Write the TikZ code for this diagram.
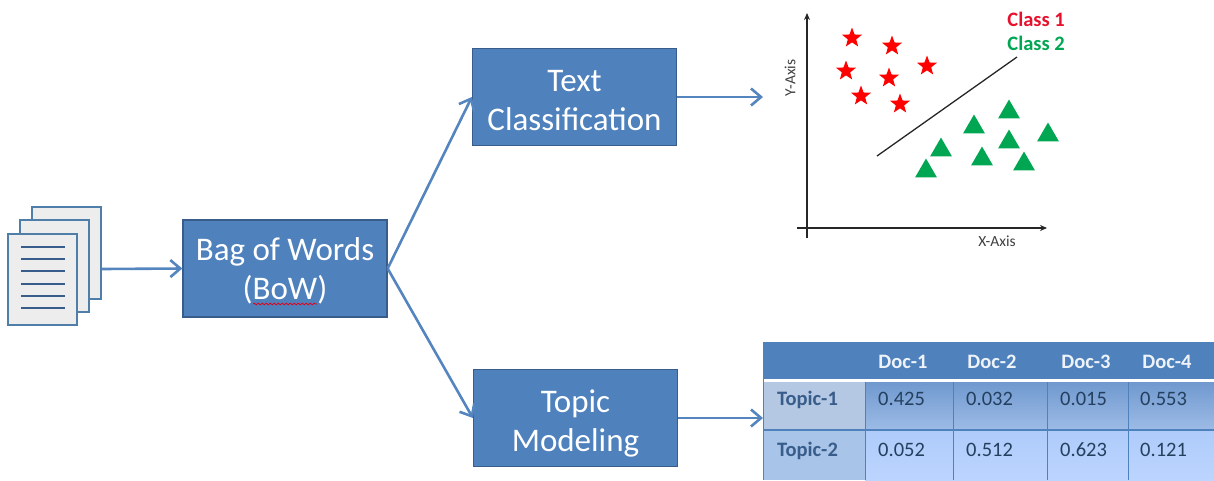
\documentclass[tikz,border=0pt]{standalone}
\usepackage{fontspec}
\setmainfont{Carlito}
\usetikzlibrary{arrows.meta,shapes.geometric,decorations.pathmorphing}
\definecolor{boxblue}{HTML}{4F81BD}
\definecolor{boxedge}{HTML}{385D8A}
\definecolor{linkblue}{HTML}{5585BE}
\definecolor{classred}{HTML}{E8112D}
\definecolor{classgreen}{HTML}{00A651}
\definecolor{docedge}{HTML}{4F7FA8}
\definecolor{cellink}{HTML}{24405F}
\definecolor{rowa}{HTML}{B4C8E4}
\definecolor{rowb}{HTML}{A8C4E8}
\definecolor{cellatop}{HTML}{7099CF}
\definecolor{cellabot}{HTML}{9DBBE6}
\definecolor{cellbtop}{HTML}{AECBFA}
\definecolor{cellbbot}{HTML}{BCD5FF}
\tikzset{
  stagebox/.style={draw=boxedge,line width=1.3pt,fill=boxblue,text=white,minimum width=204pt,minimum height=97pt,
    align=center,font=\fontsize{33}{39}\selectfont,inner sep=0pt},
  link/.style={draw=linkblue,line width=2.6pt,-{Straight Barb[length=10pt,width=17pt,line width=2.6pt]}},
  sheet/.style={draw=docedge,line width=2.6pt,fill=black!7},
  docline/.style={draw=boxedge,line width=2.6pt},
  starmark/.style={star,star points=5,star point ratio=2.4,fill=red,inner sep=0pt,minimum size=21pt},
  trimark/.style={regular polygon,regular polygon sides=3,fill=classgreen,inner sep=0pt,minimum size=25pt},
  axis/.style={draw=black!85,line width=1.1pt,-{Stealth[length=7pt,width=6pt]}},
  headcell/.style={text=white!90!boxblue,inner sep=0pt,font=\fontsize{20.5}{22}\bfseries\selectfont},
  rowcell/.style={text=boxedge,inner sep=0pt,text height=13pt,text depth=0pt,font=\fontsize{20.5}{22}\bfseries\selectfont,anchor=west},
  valcell/.style={text=cellink,inner sep=0pt,text height=13pt,text depth=0pt,font=\fontsize{20.5}{22}\selectfont,anchor=west}
}
\newcommand{\boxdrop}[1]{\rule{0pt}{#1}}
\begin{document}
\begin{tikzpicture}[x=1pt,y=-1pt]
  \useasboundingbox (0,0) rectangle (1214,480);
  % documents
  \draw[sheet] (32,207) rectangle (101,299);
  \draw[sheet] (20,220) rectangle (89,312);
  \draw[sheet] (8,234) rectangle (77,325);
  \draw[docline] (21,247) -- (65,247);
  \draw[docline] (21,259) -- (65,259);
  \draw[docline] (21,271) -- (65,271);
  \draw[docline] (21,284) -- (65,284);
  \draw[docline] (21,296) -- (65,296);
  \draw[docline] (21,308) -- (65,308);
  \coordinate (docs) at (102,269);
  % boxes
  \draw
    (285,268.5) node[stagebox] (bow){\boxdrop{28.5pt}Bag of Words\\(BoW)}
    (574.5,97) node[stagebox] (textclass){\boxdrop{29pt}Text\\Classification}
    (575.5,418) node[stagebox] (topicmodel){\boxdrop{33pt}Topic\\Modeling};
  \draw[red!80!violet,line width=.8pt,decorate,decoration={snake,amplitude=.8pt,segment length=4pt}] (253,304) -- (317,304);
  % plot
  \draw[axis] (807,238) -- (807,13);
  \draw[axis] (797,228) -- (1047,228);
  \draw[black!85,line width=1.3pt] (877,156) -- (1017,57);
  \draw
    (852,38) node[starmark] (star1){}
    (892,46) node[starmark] (star2){}
    (846,71) node[starmark] (star3){}
    (889,78) node[starmark] (star4){}
    (927,66) node[starmark] (star5){}
    (861,96) node[starmark] (star6){}
    (900,104) node[starmark] (star7){};
  \draw
    (1009,112) node[trimark] (tri1){}
    (974,127) node[trimark] (tri2){}
    (941,150) node[trimark] (tri3){}
    (1009,142) node[trimark] (tri4){}
    (1048,135) node[trimark] (tri5){}
    (982,159) node[trimark] (tri6){}
    (1024,164) node[trimark] (tri7){}
    (926,171) node[trimark] (tri8){};
  \node[text=classred,inner sep=0pt,font=\fontsize{20.5}{22}\bfseries\selectfont,anchor=east] (class1) at (1065,19) {Class 1};
  \node[text=classgreen,inner sep=0pt,font=\fontsize{20.5}{22}\bfseries\selectfont,anchor=east] (class2) at (1065,43) {Class 2};
  \node[text=black!75,font=\fontsize{15.5}{17}\selectfont] (xaxis) at (997,241) {X-Axis};
  \node[text=black!75,font=\fontsize{15.5}{17}\selectfont,rotate=90] (yaxis) at (790,78) {Y-Axis};
  \coordinate (plot) at (763,97);
  % table
  \fill[boxblue] (763,342) rectangle (1214,379);
  \fill[rowa] (763,382) rectangle (865,430);
  \fill[top color=cellatop,bottom color=cellabot] (865,382) rectangle (1214,430);
  \fill[rowb] (763,430) rectangle (865,480);
  \fill[top color=cellbtop,bottom color=cellbbot] (865,430) rectangle (1214,480);
  \draw[boxblue,line width=1pt] (763,342) -- (763,480);
  \draw[boxblue,line width=1.2pt] (763,430) -- (1214,430);
  \draw[boxblue,line width=1pt] (865,382) -- (865,480);
  \draw[boxblue,line width=1pt] (953,382) -- (953,480);
  \draw[boxblue,line width=1pt] (1047,382) -- (1047,480);
  \draw[boxblue,line width=1pt] (1128,382) -- (1128,480);
  \coordinate (tbl) at (763,418);
  \draw
    (903,362) node[headcell] (doc1){Doc-1}
    (992,362) node[headcell] (doc2){Doc-2}
    (1086,362) node[headcell] (doc3){Doc-3}
    (1167,362) node[headcell] (doc4){Doc-4};
  \draw
    (777,399) node[rowcell] (topic1){Topic-1}
    (777,450) node[rowcell] (topic2){Topic-2};
  \draw
    (878,399) node[valcell] (a1){0.425}
    (966,399) node[valcell] (a2){0.032}
    (1060,399) node[valcell] (a3){0.015}
    (1140,399) node[valcell] (a4){0.553}
    (878,450) node[valcell] (b1){0.052}
    (966,450) node[valcell] (b2){0.512}
    (1060,450) node[valcell] (b3){0.623}
    (1140,450) node[valcell] (b4){0.121};
  % connectors
  \begin{scope}[link]
    \draw (docs) to (bow.west);
    \draw (bow.east) to (textclass.west);
    \draw (bow.east) to (topicmodel.west);
    \draw (textclass.east) to (plot);
    \draw (topicmodel.east) to (tbl);
  \end{scope}
\end{tikzpicture}
\end{document}
